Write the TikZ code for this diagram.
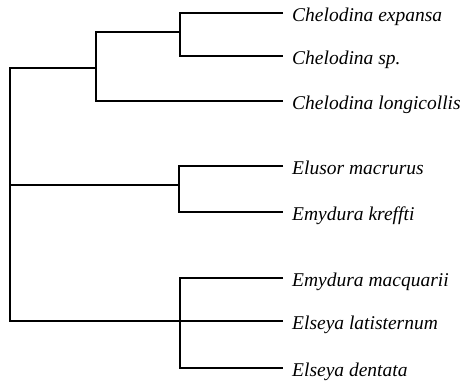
\documentclass[tikz,border=0pt]{standalone}
\usepackage{fontspec}
\setmainfont{Liberation Serif}
\begin{document}
\begin{tikzpicture}[x=1pt,y=-1pt,
  branch/.style={draw=black,line width=1.3pt},
  taxon/.style={anchor=base west,inner sep=0pt,font=\fontsize{19.5}{22}\selectfont\itshape}]
\useasboundingbox (0,0) rectangle (464,381);
% leaf ends
\coordinate (e1) at (283,13);
\coordinate (e2) at (283,56);
\coordinate (e3) at (283,101);
\coordinate (e4) at (283,166);
\coordinate (e5) at (283,212);
\coordinate (e6) at (283,278);
\coordinate (e7) at (283,321);
\coordinate (e8) at (283,368);
% internal nodes
\coordinate (a) at (180,32);
\coordinate (c) at (96,68);
\coordinate (r) at (10,185);
\coordinate (b) at (179,185);
\coordinate (d) at (180,321);
% labels
\node[taxon] (t1) at (292,21) {Chelodina expansa};
\node[taxon] (t2) at (292,64) {Chelodina sp.};
\node[taxon] (t3) at (292,109) {Chelodina longicollis};
\node[taxon] (t4) at (292,174) {Elusor macrurus};
\node[taxon] (t5) at (292,220) {Emydura kreffti};
\node[taxon] (t6) at (292,286) {Emydura macquarii};
\node[taxon] (t7) at (292,329) {Elseya latisternum};
\node[taxon] (t8) at (292,376) {Elseya dentata};
% branches
\draw[branch] (e1) -| (a) |- (e2);
\draw[branch] (a) -| (c) |- (e3);
\draw[branch] (c) -| (r) |- (e7);
\draw[branch] (r) -- (b);
\draw[branch] (e4) -| (b) |- (e5);
\draw[branch] (e6) -| (d) |- (e8);
\end{tikzpicture}
\end{document}
